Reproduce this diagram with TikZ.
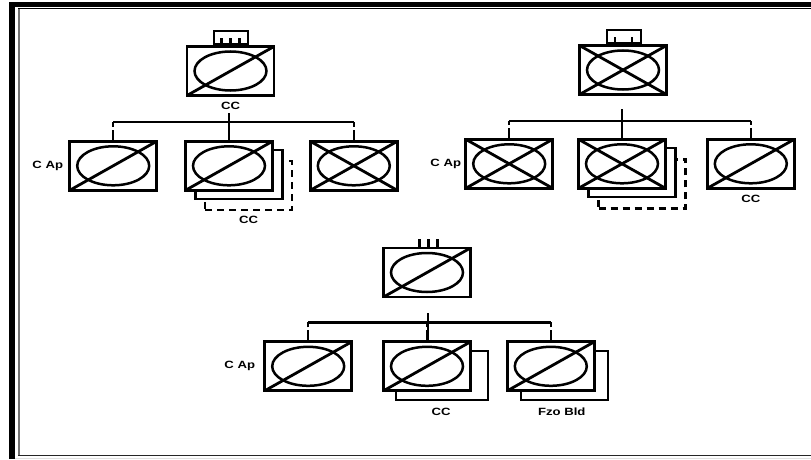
\documentclass[tikz,border=0pt]{standalone}
\usepackage{fontspec}
\newfontfamily\tagfont[FakeStretch=1.25]{Liberation Sans}
\usepackage{tikz}
\usetikzlibrary{positioning, calc, backgrounds}

\begin{document}
\begin{tikzpicture}[
        x=1pt, y=1pt,
        node distance=43pt,
        unitbox/.style={draw, rectangle, line width=2.8pt, fill=white,
            minimum width=87pt, minimum height=49pt, inner sep=0pt},
        slashbox/.style={unitbox, path picture={
            \draw[line width=2.5pt] (0,0) circle[x radius=36pt, y radius=19.5pt];
            \draw[line width=2.8pt] (path picture bounding box.south west)
                -- (path picture bounding box.north east);}},
        crossbox/.style={unitbox, path picture={
            \draw[line width=2.5pt] (0,0) circle[x radius=36pt, y radius=19.5pt];
            \draw[line width=2.8pt] (path picture bounding box.south west)
                -- (path picture bounding box.north east);
            \draw[line width=2.8pt] (path picture bounding box.north west)
                -- (path picture bounding box.south east);}},
        backbox/.style={unitbox, line width=2.3pt},
        dashbox/.style={backbox, line width=2.6pt, dash pattern=on 7pt off 5pt},
        handle/.style={draw, rectangle, line width=2.3pt, inner sep=0pt,
            minimum width=34pt, minimum height=13pt},
        wire/.style={draw, line width=2.5pt},
        drop/.style={wire, dash pattern=on 10pt off 3pt on 100pt},
        tag/.style={font=\tagfont\fontsize{10.5}{10.5}\selectfont\bfseries, inner sep=0pt},
    ]
        \useasboundingbox (0,0) rectangle (811,459);

        % frame
        \fill[black] (9,0) rectangle (15,457);
        \fill[black] (9,452) rectangle (811,457);
        \fill[black!55] (18,3) rectangle (20,450);
        \fill[black] (18,449.5) rectangle (811,451);
        \fill[black!85] (18,3) rectangle (811,4.5);
        \fill[black!12] (15,0.5) rectangle (811,1.5);

        % first tree
        \node[slashbox] (a0) at (230.5,388) {};
        \node[slashbox, below=of a0, xshift=-1.5pt] (a2) {};
        \node[slashbox, left=26pt of a2] (a1) {};
        \node[crossbox, right=35pt of a2] (a3) {};
        \node[handle, above=0pt of a0, xshift=0.5pt] (a4) {};
        \foreach \k in {-9,0,9}
            \draw[wire] ([xshift=\k pt]a0.north) -- ++(0,7);
        \begin{scope}[on background layer]
            \node[dashbox, xshift=19.5pt, yshift=-19.5pt] (a6) at (a2) {};
            \node[backbox, xshift=10pt, yshift=-9pt] (a5) at (a2) {};
        \end{scope}
        \coordinate[above=18pt of a2.north] (abus);
        \coordinate[above=27pt of a2.north] (atop);
        \path[wire] (a1.north |- abus) -- (a3.north |- abus);
        \path[wire] (a2.north) -- (atop);
        \foreach \i in {a1,a2,a3}
            \path[drop] (\i.north) -- (\i.north |- abus);
        \node[tag, below=5pt of a0] {CC};
        \node[tag, left=5pt of a1] {C Ap};
        \node[tag, below=5pt of a6] {CC};

        % second tree
        \node[crossbox] (b0) at (623,389) {};
        \node[crossbox, below=42pt of b0, xshift=-1pt] (b2) {};
        \node[crossbox, left=23pt of b2] (b1) {};
        \node[slashbox, right=39pt of b2] (b3) {};
        \node[handle, above=0pt of b0, xshift=1pt] (b4) {};
        \foreach \k in {-8,9}
            \draw[wire] ([xshift=\k pt]b0.north) -- ++(0,7);
        \begin{scope}[on background layer]
            \node[dashbox, xshift=20pt, yshift=-20pt] (b6) at (b2) {};
            \node[backbox, xshift=10pt, yshift=-9pt] (b5) at (b2) {};
        \end{scope}
        \coordinate[above=17pt of b2.north] (bbus);
        \coordinate[above=29pt of b2.north] (btop);
        \path[wire] (b1.north |- bbus) -- (b3.north |- bbus);
        \path[wire] (b2.north) -- (btop);
        \foreach \i in {b1,b2,b3}
            \path[drop] (\i.north) -- (\i.north |- bbus);
        \node[tag, left=3pt of b1] {C Ap};
        \node[tag, below=5pt of b3] {CC};

        % third tree
        \node[slashbox] (c0) at (427,186.5) {};
        \node[slashbox, below=42pt of c0] (c2) {};
        \node[slashbox, left=29pt of c2] (c1) {};
        \node[slashbox, right=34pt of c2] (c3) {};
        \foreach \k in {-7.5,1.5,10.5}
            \draw[wire] ([xshift=\k pt]c0.north) -- ++(0,8);
        \begin{scope}[on background layer]
            \node[backbox, xshift=15pt, yshift=-9pt, minimum width=92pt] (c4) at (c2) {};
            \node[backbox, xshift=14pt, yshift=-9pt] (c5) at (c3) {};
        \end{scope}
        \coordinate[above=18pt of c2.north] (cbus);
        \coordinate[above=27pt of c2.north] (ctop);
        \path[wire] (c1.north |- cbus) -- (c3.north |- cbus);
        \path[wire] ([xshift=1pt]c2.north) -- ([xshift=1pt]ctop);
        \foreach \i in {c1,c2,c3}
            \path[drop] (\i.north) -- (\i.north |- cbus);
        \node[tag, left=8pt of c1] {C Ap};
        \node[tag, below=7pt of c4, xshift=-1pt] {CC};
        \node[tag, below=7pt of c5, xshift=-3pt] {Fzo Bld};
    \end{tikzpicture}
\end{document}
